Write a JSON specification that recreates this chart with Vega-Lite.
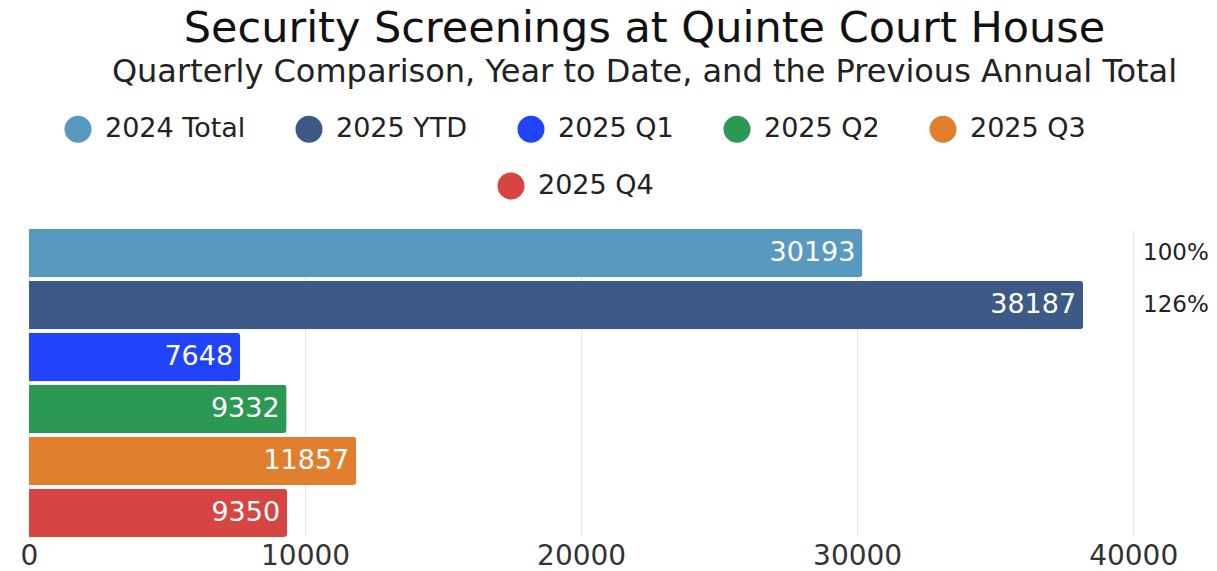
{
  "$schema": "https://vega.github.io/schema/vega-lite/v6.json",
  "autosize": {"type": "none"},
  "width": 1187,
  "height": 308,
  "padding": {"left": 29, "top": 229, "right": 1, "bottom": 34},
  "background": "white",
  "config": {"view": {"stroke": null}},
  "title": {
    "text": "Security Screenings at Quinte Court House",
    "subtitle": "Quarterly Comparison, Year to Date, and the Previous Annual Total",
    "anchor": "middle",
    "dx": 22,
    "offset": 27,
    "font": "DejaVu Sans",
    "fontSize": 43,
    "fontWeight": "normal",
    "color": "#111111",
    "subtitleFont": "DejaVu Sans",
    "subtitleFontSize": 32,
    "subtitleColor": "#222222",
    "subtitlePadding": 6
  },
  "data": {
    "values": [
      {"label": "2024 Total", "value": 30193, "pct": "100%"},
      {"label": "2025 YTD", "value": 38187, "pct": "126%"},
      {"label": "2025 Q1", "value": 7648, "pct": null},
      {"label": "2025 Q2", "value": 9332, "pct": null},
      {"label": "2025 Q3", "value": 11857, "pct": null},
      {"label": "2025 Q4", "value": 9350, "pct": null}
    ]
  },
  "encoding": {
    "y": {
      "field": "label",
      "type": "nominal",
      "sort": null,
      "axis": null,
      "scale": {"paddingInner": 0.07, "paddingOuter": 0}
    }
  },
  "layer": [
    {
      "mark": {"type": "bar", "cornerRadiusEnd": 3},
      "encoding": {
        "x": {
          "field": "value",
          "type": "quantitative",
          "scale": {"domain": [0, 43000], "nice": false},
          "axis": {
            "title": null,
            "values": [0, 10000, 20000, 30000, 40000],
            "format": "d",
            "grid": true,
            "gridColor": "#e8e8e8",
            "domain": false,
            "ticks": false,
            "labelFont": "DejaVu Sans",
            "labelFontSize": 28,
            "labelColor": "#333333",
            "labelPadding": 5,
            "labelFlush": false
          }
        },
        "fill": {
          "field": "label",
          "type": "nominal",
          "sort": null,
          "scale": {
            "domain": ["2024 Total", "2025 YTD", "2025 Q1", "2025 Q2", "2025 Q3", "2025 Q4"],
            "range": ["#5899bf", "#3d5a87", "#2143fc", "#2b9953", "#e0802f", "#d64542"]
          },
          "legend": {
            "title": null,
            "orient": "none",
            "direction": "horizontal",
            "legendX": 35,
            "legendY": -114,
            "values": ["2024 Total", "2025 YTD", "2025 Q1", "2025 Q2", "2025 Q3"],
            "symbolType": "circle",
            "symbolSize": 730,
            "symbolStrokeWidth": 0,
            "labelFont": "DejaVu Sans",
            "labelFontSize": 27,
            "labelColor": "#222222",
            "labelOffset": 13,
            "columnPadding": 49,
            "labelLimit": 300
          }
        }
      }
    },
    {
      "mark": {"type": "text", "align": "right", "baseline": "middle", "dx": -7, "color": "white", "font": "DejaVu Sans", "fontSize": 27},
      "encoding": {
        "x": {"field": "value", "type": "quantitative"},
        "text": {"field": "value", "type": "quantitative", "format": "d"}
      }
    },
    {
      "transform": [{"filter": "datum.pct != null"}],
      "mark": {"type": "text", "align": "center", "baseline": "middle", "color": "#222222", "font": "DejaVu Sans", "fontSize": 23},
      "encoding": {
        "x": {"datum": 41550, "type": "quantitative"},
        "text": {"field": "pct", "type": "nominal"}
      }
    },
    {
      "transform": [{"filter": "datum.label == '2025 Q4'"}],
      "mark": {"type": "point", "filled": true, "size": 0, "opacity": 0},
      "encoding": {
        "x": {"field": "value", "type": "quantitative"},
        "color": {
          "field": "label",
          "type": "nominal",
          "scale": {"domain": ["2025 Q4"], "range": ["#d64542"]},
          "legend": {
            "title": null,
            "orient": "none",
            "legendX": 468,
            "legendY": -57,
            "symbolType": "circle",
            "symbolSize": 730,
            "symbolOpacity": 1,
            "symbolStrokeWidth": 0,
            "labelFont": "DejaVu Sans",
            "labelFontSize": 27,
            "labelColor": "#222222",
            "labelOffset": 13
          }
        }
      }
    }
  ]
}
